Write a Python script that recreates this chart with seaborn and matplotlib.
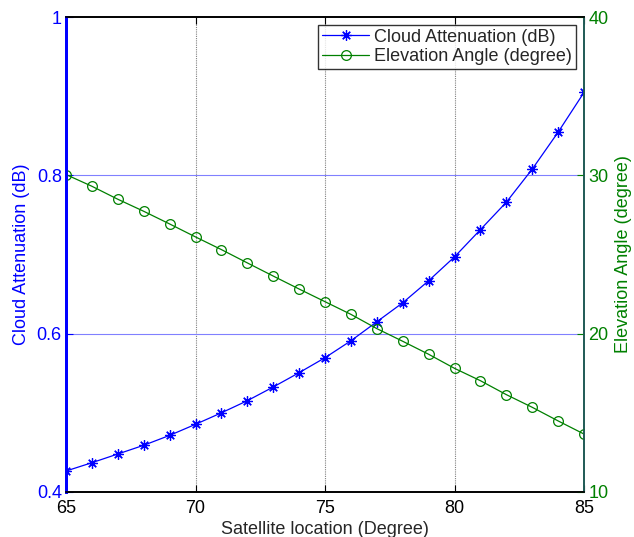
import matplotlib
matplotlib.use("Agg")
import matplotlib.pyplot as plt
import seaborn as sns
import pandas as pd

# Satellite orbital location (degrees east)
location = [65, 66, 67, 68, 69, 70, 71, 72, 73, 74, 75,
            76, 77, 78, 79, 80, 81, 82, 83, 84, 85]
# Cloud attenuation at each location (dB)
cloud_att = [0.4265, 0.437, 0.448, 0.459, 0.4715, 0.4855, 0.500, 0.5153, 0.5326, 0.5507, 0.5696,
             0.591, 0.615, 0.639, 0.6668, 0.697, 0.7314, 0.766, 0.8078, 0.8545, 0.9047]
# Elevation angle at each location (degrees)
elev_angle = [30.05, 29.31, 28.49, 27.73, 26.93, 26.11, 25.31, 24.47, 23.64, 22.82, 22.02,
              21.22, 20.32, 19.52, 18.70, 17.81, 17.03, 16.15, 15.35, 14.49, 13.66]

x_ticks = [65, 70, 75, 80, 85]
left_ticks = [0.4, 0.6, 0.8, 1.0]
left_labels = ["0.4", "0.6", "0.8", "1"]
right_ticks = [10, 20, 30, 40]

df = pd.DataFrame({"location": location, "att": cloud_att, "elev": elev_angle})

sns.set_style("white")
plt.rcParams["font.family"] = ["Liberation Sans", "DejaVu Sans"]

BLUE = "#0000ff"
GREEN = "#008000"
FS = 13

fig = plt.figure(figsize=(6.34, 5.37), dpi=100)
ax = fig.add_axes([66 / 634, 1 - 492 / 537, (584 - 66) / 634, (492 - 17) / 537])
ax2 = ax.twinx()

# asterisk marker made of eight spokes
asterisk = (8, 2, 0)

sns.lineplot(data=df, x="location", y="att", ax=ax, color=BLUE, lw=0.9,
             marker=asterisk, markersize=7.5, markeredgecolor=BLUE, markeredgewidth=0.9,
             label="Cloud Attenuation (dB)", legend=False)
sns.lineplot(data=df, x="location", y="elev", ax=ax2, color=GREEN, lw=0.9,
             marker="o", markersize=7, markerfacecolor="none", markeredgecolor=GREEN,
             markeredgewidth=0.9, label="Elevation Angle (degree)", legend=False)

ax.set_xlim(65, 85)
ax.set_ylim(0.4, 1.0)
ax2.set_ylim(10, 40)
ax.set_xticks(x_ticks)
ax.set_yticks(left_ticks)
ax.set_yticklabels(left_labels)
ax2.set_yticks(right_ticks)

# grid: dotted grey verticals, thin blue horizontals
for xv in x_ticks[1:-1]:
    ax.axvline(xv, color="#808080", lw=0.8, ls=(0, (1, 1)), zorder=0)
for yv in left_ticks[1:-1]:
    ax.axhline(yv, color="#8080ff", lw=0.8, zorder=0)

ax.tick_params(axis="x", direction="in", length=5, top=True, bottom=True,
               labelsize=FS, colors="black", pad=6)
ax.tick_params(axis="y", direction="in", length=5, labelsize=FS,
               colors=BLUE, pad=3)
ax2.tick_params(axis="y", direction="in", length=5, labelsize=FS,
                colors=GREEN, pad=3)

ax.set_xlabel("Satellite location (Degree)", fontsize=FS, labelpad=3)
ax.set_ylabel("Cloud Attenuation (dB)", fontsize=FS, color=BLUE, labelpad=5)
ax2.set_ylabel("Elevation Angle (degree)", fontsize=FS, color=GREEN, labelpad=5)

for a in (ax, ax2):
    for s in a.spines.values():
        s.set_visible(True)
        s.set_color("black")
        s.set_linewidth(1.2)
for a in (ax, ax2):
    a.spines["left"].set_color(BLUE)
    a.spines["left"].set_linewidth(2)
    a.spines["right"].set_color("#1f5a55")

h1, l1 = ax.get_legend_handles_labels()
h2, l2 = ax2.get_legend_handles_labels()
leg = ax2.legend(h1 + h2, l1 + l2, loc="upper right", fontsize=FS,
                 frameon=True, fancybox=False, edgecolor="black",
                 borderpad=0.2, labelspacing=0.15, handlelength=2.6,
                 handletextpad=0.3, borderaxespad=0.45)
leg.get_frame().set_linewidth(1.0)

fig.savefig("out.png", dpi=100)
